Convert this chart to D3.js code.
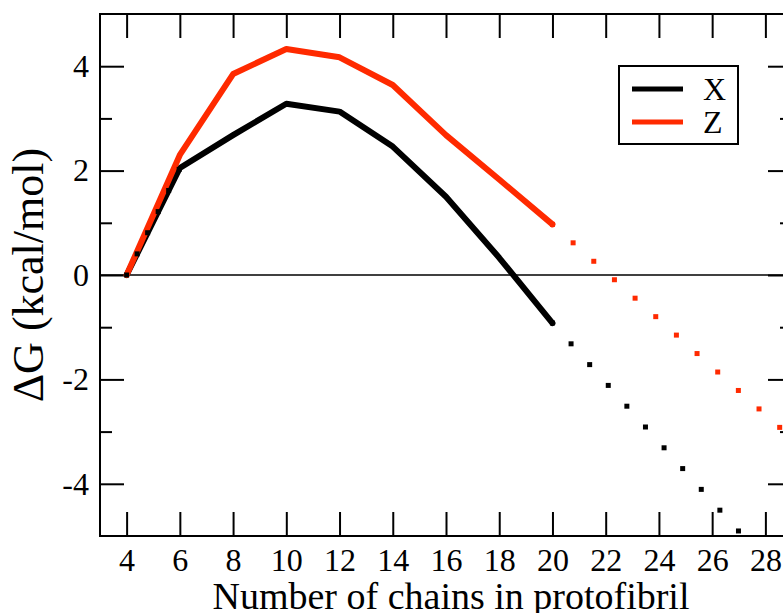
<!DOCTYPE html>
<html>
<head>
<meta charset="utf-8">
<title>Delta G vs chains</title>
<script src="https://d3js.org/d3.v7.min.js"></script>
<style>
  body { margin: 0; background: #fff; }
  svg { display: block; font-family: "Liberation Serif", "DejaVu Serif", serif; }
</style>
</head>
<body>
<div id="chart"></div>
<script>

// data
var chains  = [4, 6, 8, 10, 12, 14, 16, 18, 20];
var xValues = [0, 2.05, 2.68, 3.28, 3.13, 2.46, 1.50, 0.33, -0.92];
var zValues = [0, 2.30, 3.85, 4.33, 4.17, 3.64, 2.68, 1.83, 0.97];

// dotted extrapolations (start / end points)
var xEarlyChains = [4, 6],   xEarlyValues = [0, 2.05];
var xFitChains   = [20, 28], xFitValues   = [-0.92, -5.48];
var zFitChains   = [20, 29], zFitValues   = [0.97, -3.13];

var xTicks = d3.range(4, 29, 2);
var yMajor = [-4, -2, 0, 2, 4];
var yMinor = [-3, -1, 1, 3];

var seriesNames  = ["X", "Z"];
var seriesColors = ["#000000", "#ff2a00"];

// layout
var W = 783, H = 613;
var pLeft = 100, pTop = 14, pRight = 792, pBottom = 536;

var x = d3.scaleLinear().domain([3, 29]).range([pLeft, pRight]);
var y = d3.scaleLinear().domain([-5, 5]).range([pBottom, pTop]);

var svg = d3.select("#chart").append("svg")
    .attr("width", W)
    .attr("height", H);

svg.append("defs").append("clipPath").attr("id", "plotclip")
  .append("rect")
    .attr("x", pLeft).attr("y", pTop)
    .attr("width", pRight - pLeft).attr("height", pBottom - pTop);

// zero line
svg.append("line")
    .attr("x1", pLeft).attr("x2", pRight)
    .attr("y1", y(0)).attr("y2", y(0))
    .attr("stroke", "#000").attr("stroke-width", 1.5);

// axes, ticks pointing inward
function styleAxis(g) {
  g.select(".domain").remove();
  g.selectAll(".tick line").attr("stroke", "#000").attr("stroke-width", 2);
  g.selectAll("text").attr("fill", "#000").style("font-size", "32px")
    .style("font-family", "Liberation Serif");
}

svg.append("g")
    .attr("transform", "translate(0," + pBottom + ")")
    .call(d3.axisBottom(x).tickValues(xTicks).tickSize(-24).tickPadding(12)
      .tickFormat(function(d) { return String(d); }))
    .call(styleAxis);

svg.append("g")
    .attr("transform", "translate(0," + pTop + ")")
    .call(d3.axisTop(x).tickValues(xTicks).tickSize(-24).tickFormat(""))
    .call(styleAxis);

svg.append("g")
    .attr("transform", "translate(" + pLeft + ",0)")
    .call(d3.axisLeft(y).tickValues(yMajor).tickSize(-24).tickPadding(11)
      .tickFormat(function(d) { return String(d); }))
    .call(styleAxis);

svg.append("g")
    .attr("transform", "translate(" + pLeft + ",0)")
    .call(d3.axisLeft(y).tickValues(yMinor).tickSize(-12).tickFormat(""))
    .call(styleAxis);

svg.append("g")
    .attr("transform", "translate(" + pRight + ",0)")
    .call(d3.axisRight(y).tickValues(yMajor).tickSize(-24).tickFormat(""))
    .call(styleAxis);

svg.append("g")
    .attr("transform", "translate(" + pRight + ",0)")
    .call(d3.axisRight(y).tickValues(yMinor).tickSize(-12).tickFormat(""))
    .call(styleAxis);

// frame
svg.append("rect")
    .attr("x", pLeft).attr("y", pTop)
    .attr("width", pRight - pLeft).attr("height", pBottom - pTop)
    .attr("fill", "none").attr("stroke", "#000").attr("stroke-width", 2);

// solid series
var line = d3.line()
    .x(function(d) { return x(d[0]); })
    .y(function(d) { return y(d[1]); });

var plot = svg.append("g").attr("clip-path", "url(#plotclip)");

[xValues, zValues].forEach(function(vals, i) {
  plot.append("path")
      .datum(d3.zip(chains, vals))
      .attr("d", line)
      .attr("fill", "none")
      .attr("stroke", seriesColors[i])
      .attr("stroke-width", 6)
      .attr("stroke-linejoin", "round")
      .attr("stroke-linecap", "round");
});

// dotted lines drawn as small squares along the segment
function dots(cx, cy, color, step) {
  var x0 = x(cx[0]), y0 = y(cy[0]), x1 = x(cx[1]), y1 = y(cy[1]);
  var len = Math.hypot(x1 - x0, y1 - y0);
  var pts = d3.range(0, len, step).map(function(s) {
    return [x0 + (x1 - x0) * s / len, y0 + (y1 - y0) * s / len];
  });
  plot.append("g").selectAll("rect")
    .data(pts)
    .enter().append("rect")
      .attr("x", function(d) { return d[0] - 2.5; })
      .attr("y", function(d) { return d[1] - 2.5; })
      .attr("width", 5).attr("height", 5)
      .attr("fill", color);
}

dots(xEarlyChains, xEarlyValues, seriesColors[0], 23.6);
dots(xFitChains, xFitValues, seriesColors[0], 27.9);
dots(zFitChains, zFitValues, seriesColors[1], 27.7);

// legend
var legend = svg.append("g");
legend.append("rect")
    .attr("x", 619).attr("y", 66).attr("width", 119).attr("height", 78)
    .attr("fill", "#fff").attr("stroke", "#000").attr("stroke-width", 2);

seriesNames.forEach(function(name, i) {
  var ly = 89 + i * 33;
  legend.append("line")
      .attr("x1", 632).attr("x2", 683)
      .attr("y1", ly).attr("y2", ly)
      .attr("stroke", seriesColors[i])
      .attr("stroke-width", 5);
  legend.append("text")
      .attr("x", 703).attr("y", ly + 11)
      .style("font-size", "32px")
      .text(name);
});

// axis titles
svg.append("text")
    .attr("x", (pLeft + pRight) / 2 + 5)
    .attr("y", 609)
    .attr("text-anchor", "middle")
    .style("font-size", "38px")
    .text("Number of chains in protofibril");

svg.append("text")
    .attr("transform", "translate(43," + y(0) + ") rotate(-90)")
    .attr("text-anchor", "middle")
    .style("font-size", "44px")
    .text("ΔG (kcal/mol)");

</script>
</body>
</html>
